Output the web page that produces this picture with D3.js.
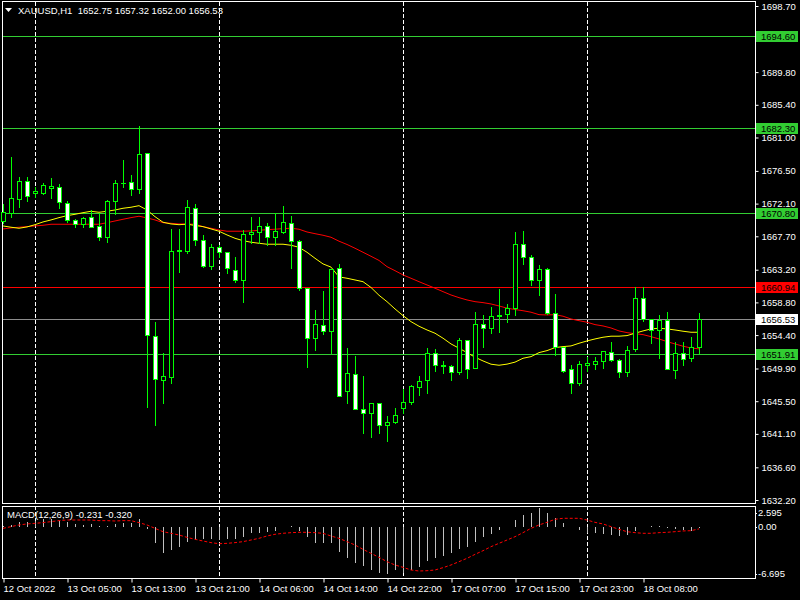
<!DOCTYPE html>
<html>
<head>
<meta charset="utf-8">
<script src="https://cdn.jsdelivr.net/npm/d3@7"></script>
<style>
html, body { margin: 0; padding: 0; background: #000; }
svg { display: block; font-family: "Liberation Sans", Arial, sans-serif; }
</style>
</head>
<body>
<svg id="chart" width="800" height="600"></svg>
<script>
// ---- data ----
var headerText = "XAUUSD,H1  1652.75 1657.32 1652.00 1656.53";
var macdText = "MACD(12,26,9) -0.231 -0.320";

var opens = [1669.80,1670.88,1672.76,1675.11,1673.57,1673.57,1674.25,1674.30,1672.14,1669.86,
  1669.32,1670.26,1669.05,1667.57,1672.41,1674.84,1674.97,1674.11,1678.87,1654.25,
  1648.32,1648.81,1665.68,1665.77,1671.47,1667.17,1663.67,1666.22,1665.55,1663.13,
  1661.78,1667.97,1668.24,1669.05,1667.57,1668.24,1669.45,1667.03,1660.71,1653.98,
  1655.73,1654.92,1663.40,1646.84,1649.13,1644.42,1643.88,1645.23,1642.27,1642.67,
  1644.55,1645.36,1647.38,1648.32,1651.96,1650.34,1650.21,1649.40,1653.75,1649.94,
  1655.86,1655.32,1656.94,1657.21,1658.01,1666.63,1664.88,1661.78,1663.26,1657.34,
  1652.76,1649.80,1647.92,1650.34,1650.48,1650.88,1652.09,1651.01,1649.40,1652.50,
  1659.36,1656.53,1655.05,1656.40,1649.67,1651.96,1651.28,1652.75];
var highs = [1672.05,1678.38,1675.69,1675.69,1674.38,1674.84,1675.55,1674.70,1672.45,1670.07,
  1670.26,1671.24,1670.80,1672.59,1675.28,1677.97,1675.95,1682.55,1678.90,1656.21,
  1651.96,1668.69,1668.69,1672.59,1672.09,1667.88,1666.67,1666.53,1665.60,1664.96,
  1668.55,1670.26,1670.26,1669.45,1670.80,1671.78,1670.44,1667.21,1660.71,1657.78,
  1660.34,1663.30,1663.98,1652.63,1651.59,1648.90,1645.23,1645.23,1643.52,1644.55,
  1647.11,1647.65,1648.90,1652.71,1652.54,1650.88,1650.34,1654.02,1653.75,1657.48,
  1657.07,1658.15,1660.57,1658.59,1668.24,1668.42,1665.15,1663.80,1663.40,1659.94,
  1652.76,1650.34,1650.88,1651.42,1651.42,1652.23,1653.44,1651.15,1652.90,1660.84,
  1660.84,1656.53,1657.07,1657.48,1653.44,1653.44,1654.11,1657.32];
var lows = [1669.50,1670.34,1671.69,1672.50,1673.03,1673.40,1672.86,1671.55,1669.67,1669.00,
  1669.00,1668.91,1667.21,1666.98,1670.71,1674.38,1673.26,1673.49,1644.69,1642.35,
  1645.31,1648.00,1662.94,1665.50,1666.53,1663.50,1663.34,1664.96,1662.80,1661.59,
  1658.90,1666.76,1666.76,1666.53,1666.53,1668.11,1663.48,1660.48,1650.15,1652.40,
  1654.51,1651.96,1646.17,1645.23,1644.42,1641.27,1640.65,1641.27,1640.11,1642.53,
  1643.96,1645.09,1646.30,1646.57,1649.53,1649.27,1648.32,1649.13,1648.59,1649.94,
  1652.85,1654.65,1654.78,1656.13,1657.11,1663.93,1661.11,1659.76,1657.21,1651.69,
  1649.48,1646.65,1647.73,1649.61,1649.80,1649.94,1650.88,1648.81,1648.94,1652.23,
  1656.26,1653.30,1651.28,1649.80,1648.59,1650.34,1650.88,1652.00];
var closes = [1670.97,1672.82,1675.11,1673.09,1673.84,1674.57,1674.43,1672.28,1669.86,1669.32,
  1670.13,1669.00,1667.57,1672.41,1674.84,1674.92,1674.11,1678.78,1654.38,1648.46,
  1648.86,1665.68,1665.82,1671.61,1667.14,1663.67,1666.22,1665.55,1663.40,1661.78,
  1667.97,1668.32,1669.05,1667.57,1668.38,1669.59,1667.03,1660.71,1653.98,1655.86,
  1654.92,1663.26,1646.17,1649.27,1644.42,1643.88,1645.23,1642.27,1642.67,1643.61,
  1645.36,1647.51,1648.19,1651.96,1650.34,1650.21,1649.40,1653.75,1649.80,1655.86,
  1655.32,1656.94,1657.07,1658.01,1666.63,1664.88,1661.78,1663.26,1657.34,1652.76,
  1649.61,1647.92,1650.48,1650.61,1650.88,1652.23,1651.01,1649.40,1652.36,1659.36,
  1656.53,1655.05,1656.40,1649.80,1651.96,1651.15,1652.76,1656.53];

// moving averages (yellow fast, red slow)
var maFast = [1669.09,1668.92,1668.78,1668.96,1669.26,1669.63,1669.90,1670.21,1670.48,1670.66,
  1670.88,1671.07,1670.93,1671.07,1671.24,1671.47,1671.61,1671.82,1671.24,1670.34,
  1669.59,1669.36,1669.26,1669.33,1669.16,1669.00,1668.69,1668.38,1667.88,1667.43,
  1667.11,1666.90,1666.76,1666.63,1666.63,1666.63,1666.49,1666.22,1665.55,1664.74,
  1663.98,1663.55,1662.23,1662.05,1661.82,1661.59,1660.81,1659.76,1658.90,1657.92,
  1657.02,1656.21,1655.59,1655.09,1654.65,1653.98,1653.21,1652.63,1652.04,1651.42,
  1650.92,1650.48,1650.34,1650.49,1650.76,1651.28,1651.50,1652.04,1652.31,1652.71,
  1652.85,1652.94,1653.30,1653.61,1653.88,1654.11,1654.25,1654.25,1654.33,1654.65,
  1654.96,1655.23,1655.32,1655.23,1655.09,1654.92,1654.78,1654.78];
var maSlow = [1668.69,1668.82,1668.92,1669.00,1669.09,1669.18,1669.32,1669.32,1669.32,1669.32,
  1669.32,1669.32,1669.32,1669.53,1669.76,1669.99,1670.21,1670.40,1670.17,1669.90,
  1669.53,1669.45,1669.36,1669.36,1669.32,1669.00,1668.78,1668.55,1668.38,1668.38,
  1668.38,1668.42,1668.51,1668.59,1668.65,1668.73,1668.78,1668.65,1668.28,1668.05,
  1667.84,1667.57,1667.04,1666.60,1666.09,1665.55,1665.01,1664.45,1663.61,1663.07,
  1662.50,1662.05,1661.59,1661.15,1660.71,1660.25,1659.80,1659.44,1659.13,1658.90,
  1658.77,1658.59,1658.32,1658.03,1657.84,1657.68,1657.48,1657.15,1657.11,1657.15,
  1656.94,1656.57,1656.34,1656.13,1655.81,1655.63,1655.36,1654.96,1654.73,1654.59,
  1654.46,1654.19,1653.88,1653.52,1653.21,1652.90,1652.67,1652.54];

// MACD histogram and signal
var macdHist = [0.05,0.24,0.71,0.71,0.80,1.08,1.08,0.85,0.71,0.38,
  0.24,0.38,0.14,0.10,0.38,0.47,0.57,1.08,-0.38,-2.26,
  -3.68,-3.30,-2.83,-2.12,-1.89,-1.79,-1.79,-1.89,-1.79,-1.79,
  -1.42,-0.94,-0.94,-0.71,-0.57,-0.10,0.10,-0.57,-1.42,-2.26,
  -2.26,-2.36,-3.54,-4.48,-5.09,-5.57,-6.13,-6.60,-6.695,-6.20,
  -6.60,-6.10,-5.70,-4.90,-4.50,-4.15,-3.70,-3.16,-2.83,-2.12,
  -1.51,-1.04,-0.47,0.00,0.94,1.65,1.98,2.595,1.98,1.18,
  0.57,-0.05,-0.47,-0.94,-0.94,-1.04,-1.18,-1.27,-1.18,-0.57,
  -0.09,0.05,0.05,-0.24,-0.38,-0.47,-0.57,-0.231];
var macdSignal = [-0.24,0.00,0.24,0.38,0.47,0.57,0.71,0.85,0.94,0.94,
  0.94,0.94,0.85,0.85,0.80,0.85,0.85,0.57,0.24,-0.24,
  -0.71,-0.94,-1.18,-1.51,-1.79,-2.03,-2.26,-2.41,-2.36,-2.26,
  -2.12,-1.89,-1.65,-1.32,-1.08,-0.94,-0.85,-0.80,-0.80,-0.85,
  -0.94,-1.32,-1.65,-2.12,-2.59,-3.21,-3.77,-4.34,-4.95,-5.42,
  -5.75,-6.13,-6.27,-6.23,-6.13,-5.80,-5.42,-4.95,-4.48,-3.92,
  -3.40,-2.83,-2.36,-1.89,-1.42,-0.85,-0.24,0.24,0.61,1.04,
  1.18,1.18,1.18,0.94,0.61,0.38,0.00,-0.38,-0.71,-0.85,
  -0.94,-0.94,-0.85,-0.80,-0.71,-0.61,-0.57,-0.32];

var timeTickBars = [0, 8, 16, 24, 32, 40, 48, 56, 64, 72, 80];
var timeTickLabels = ["12 Oct 2022", "13 Oct 05:00", "13 Oct 13:00", "13 Oct 21:00", "14 Oct 06:00",
  "14 Oct 14:00", "14 Oct 22:00", "17 Oct 07:00", "17 Oct 15:00", "17 Oct 23:00", "18 Oct 08:00"];
var separatorBars = [4, 27, 50, 73];

var priceTicks = [1698.70, 1694.30, 1689.80, 1685.40, 1681.00, 1676.50, 1672.10, 1667.70,
  1663.20, 1658.80, 1654.40, 1649.90, 1645.50, 1641.10, 1636.60, 1632.20];
var macdTicks = [2.595, 0, -6.695];

var levelValues = [1694.60, 1682.30, 1670.80, 1660.94, 1656.53, 1651.91];
var levelKinds = ["support", "support", "support", "alert", "bid", "support"];

// ---- layout ----
var svg = d3.select("#chart");
var plotLeft = 2, plotRight = 755;
var mainTop = 1, mainBottom = 503, macdTop = 506, macdBottom = 578;
var fontSize = "9.5px";

var lineColor = { support: "#32cd32", alert: "#ff0000", bid: "#8c8c8c" };
var boxColor = { support: "#32cd32", alert: "#ff0000", bid: "#ffffff" };
var candleColor = "#00ff00";

var x = d3.scaleLinear().domain([0, opens.length - 1]).range([3, 3 + 8 * (opens.length - 1)]);
var y = d3.scaleLinear().domain([1632.2, 1698.7]).range([500, 6]);
var ym = d3.scaleLinear().domain([-6.695, 2.595]).range([574, 508.3]);

function px(v) { return Math.round(v) + 0.5; }

svg.append("rect").attr("width", 800).attr("height", 600).attr("fill", "#000");

// frames
svg.append("rect")
   .attr("x", plotLeft + 0.5).attr("y", mainTop + 0.5)
   .attr("width", plotRight - plotLeft).attr("height", mainBottom - mainTop)
   .attr("fill", "none").attr("stroke", "#fff").attr("shape-rendering", "crispEdges");
svg.append("rect")
   .attr("x", plotLeft + 0.5).attr("y", macdTop + 0.5)
   .attr("width", plotRight - plotLeft).attr("height", macdBottom - macdTop)
   .attr("fill", "none").attr("stroke", "#fff").attr("shape-rendering", "crispEdges");

// day separators
svg.append("g").selectAll("line")
   .data(separatorBars)
   .join("line")
   .attr("x1", function(d) { return px(x(d)); })
   .attr("x2", function(d) { return px(x(d)); })
   .attr("y1", mainTop + 1).attr("y2", macdBottom)
   .attr("stroke", "#fff").attr("stroke-dasharray", "4,2")
   .attr("shape-rendering", "crispEdges");

// horizontal levels
svg.append("g").selectAll("line")
   .data(levelValues)
   .join("line")
   .attr("x1", plotLeft + 1).attr("x2", plotRight)
   .attr("y1", function(d) { return px(y(d)); })
   .attr("y2", function(d) { return px(y(d)); })
   .attr("stroke", function(d, i) { return lineColor[levelKinds[i]]; })
   .attr("shape-rendering", "crispEdges");

// moving averages
var maLine = d3.line()
   .x(function(d, i) { return x(i); })
   .y(function(d) { return y(d); });
svg.append("path").datum(maSlow)
   .attr("d", maLine).attr("fill", "none").attr("stroke", "#ff0000").attr("stroke-width", 1);
svg.append("path").datum(maFast)
   .attr("d", maLine).attr("fill", "none").attr("stroke", "#ffff00").attr("stroke-width", 1);

// candles
var candles = svg.append("g").attr("shape-rendering", "crispEdges");
opens.forEach(function(o, i) {
  var c = closes[i];
  var cx = Math.round(x(i));
  candles.append("line")
     .attr("x1", cx + 0.5).attr("x2", cx + 0.5)
     .attr("y1", Math.round(y(highs[i]))).attr("y2", Math.round(y(lows[i])) + 1)
     .attr("stroke", candleColor);
  var top = Math.round(y(Math.max(o, c)));
  var bottom = Math.round(y(Math.min(o, c)));
  if (bottom - top < 1) {
    candles.append("line")
       .attr("x1", cx - 2).attr("x2", cx + 3)
       .attr("y1", top + 0.5).attr("y2", top + 0.5)
       .attr("stroke", candleColor);
  } else {
    candles.append("rect")
       .attr("x", cx - 1.5).attr("y", top + 0.5)
       .attr("width", 4).attr("height", bottom - top)
       .attr("fill", c >= o ? "#000" : "#fff")
       .attr("stroke", candleColor);
  }
});

// MACD histogram
svg.append("g").selectAll("line")
   .data(macdHist)
   .join("line")
   .attr("x1", function(d, i) { return px(x(i)); })
   .attr("x2", function(d, i) { return px(x(i)); })
   .attr("y1", Math.round(ym(0)))
   .attr("y2", function(d) { return Math.round(ym(d)); })
   .attr("stroke", "#c0c0c0")
   .attr("shape-rendering", "crispEdges");

// MACD signal
svg.append("path").datum(macdSignal)
   .attr("d", d3.line().x(function(d, i) { return x(i); }).y(function(d) { return ym(d); }))
   .attr("fill", "none").attr("stroke", "#ff0000").attr("stroke-dasharray", "3,2");

// price axis (labels hidden where a level box covers them)
function coveredByBox(v) {
  return levelValues.some(function(l) { return Math.abs(y(l) - y(v)) < 9; });
}
var priceAxis = svg.append("g")
   .attr("transform", "translate(" + (plotRight + 0.5) + ",0)")
   .call(d3.axisRight(y).tickValues(priceTicks).tickSize(3).tickPadding(3)
     .tickFormat(function(d) { return d.toFixed(2); }));
priceAxis.select(".domain").remove();
priceAxis.selectAll("line").attr("stroke", "#fff");
priceAxis.selectAll("text").attr("fill", "#fff").style("font-size", fontSize).attr("font-family", null)
   .style("display", function(d) { return coveredByBox(d) ? "none" : null; });

// level boxes on axis
var boxes = svg.append("g");
levelValues.forEach(function(v, i) {
  var ly = Math.round(y(v));
  boxes.append("rect")
     .attr("x", plotRight + 1).attr("y", ly - 5)
     .attr("width", 42).attr("height", 11)
     .attr("fill", boxColor[levelKinds[i]]);
  boxes.append("text")
     .attr("x", plotRight + 6).attr("y", ly + 0.5).attr("dy", "0.32em")
     .attr("fill", "#000").style("font-size", fontSize)
     .text(v.toFixed(2));
});

// MACD axis
var macdAxis = svg.append("g");
macdTicks.forEach(function(v) {
  var ty = Math.min(Math.max(ym(v), 512.5), 573.5);
  macdAxis.append("line")
     .attr("x1", plotRight + 1).attr("x2", plotRight + 2)
     .attr("y1", px(ty)).attr("y2", px(ty)).attr("stroke", "#fff");
  macdAxis.append("text")
     .attr("x", plotRight + 3).attr("y", ty).attr("dy", "0.32em")
     .attr("fill", "#fff").style("font-size", fontSize)
     .text(v === 0 ? "0.00" : v.toFixed(3));
});

// time axis
var timeAxis = svg.append("g")
   .attr("transform", "translate(0," + (macdBottom + 0.5) + ")")
   .call(d3.axisBottom(x).tickValues(timeTickBars).tickSize(4).tickPadding(3)
     .tickFormat(function(d, i) { return timeTickLabels[i]; }));
timeAxis.select(".domain").remove();
timeAxis.selectAll("line").attr("stroke", "#fff").attr("transform", "translate(0.5,0)");
timeAxis.selectAll("text").attr("fill", "#fff").attr("text-anchor", "start")
   .style("font-size", fontSize).attr("font-family", null);

// header texts
svg.append("path")
   .attr("d", d3.line()([[5, 8], [12, 8], [8.5, 12]]) + "Z")
   .attr("fill", "#fff");
svg.append("text")
   .attr("x", 18).attr("y", 14)
   .attr("fill", "#fff").style("font-size", fontSize).style("white-space", "pre")
   .text(headerText);
svg.append("text")
   .attr("x", 7).attr("y", 517.5)
   .attr("fill", "#fff").style("font-size", fontSize)
   .text(macdText);
</script>
</body>
</html>
